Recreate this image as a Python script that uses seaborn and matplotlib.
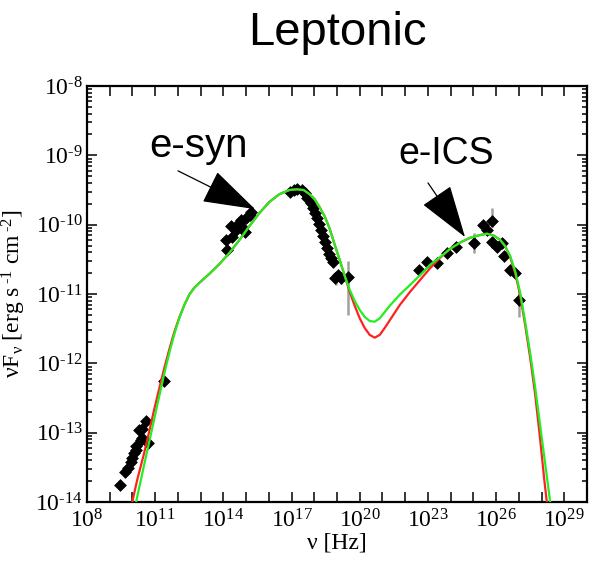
import numpy as np
import matplotlib
matplotlib.use("Agg")
import matplotlib.pyplot as plt
from matplotlib.ticker import FixedLocator, LogLocator, NullFormatter
import seaborn as sns

# ---- model curves (log10 nu [Hz], log10 nuFnu [erg s^-1 cm^-2]) ----
green_lognu = [10.16, 10.29, 10.51, 10.74, 10.96, 11.18, 11.40, 11.62, 11.84, 12.06,
               12.28, 12.50, 12.72, 12.94, 13.38, 13.82, 14.26, 14.71, 15.15, 15.59,
               16.03, 16.47, 16.91, 17.22, 17.53, 17.79, 18.01, 18.24, 18.46, 18.68,
               18.90, 19.12, 19.34, 19.56, 19.78, 20.00, 20.22, 20.44, 20.66, 20.88,
               21.10, 21.32, 21.76, 22.21, 22.65, 23.09, 23.53, 23.97, 24.41, 24.85,
               25.29, 25.60, 25.91, 26.18, 26.40, 26.62, 26.84, 27.06, 27.28, 27.50,
               27.72, 27.94, 28.16, 28.40]
green_logF = [-14.0, -13.80, -13.47, -13.13, -12.80, -12.47, -12.15, -11.85, -11.58, -11.35,
              -11.16, -11.01, -10.91, -10.84, -10.71, -10.57, -10.41, -10.22, -10.02, -9.83,
              -9.67, -9.56, -9.50, -9.49, -9.50, -9.56, -9.63, -9.75, -9.88, -10.06,
              -10.29, -10.51, -10.74, -10.94, -11.10, -11.23, -11.33, -11.39, -11.40, -11.35,
              -11.26, -11.17, -11.01, -10.87, -10.73, -10.58, -10.47, -10.35, -10.26, -10.19,
              -10.15, -10.13, -10.16, -10.22, -10.31, -10.45, -10.67, -10.98, -11.40, -11.85,
              -12.35, -12.90, -13.45, -14.05]

red_lognu = [9.99, 10.21, 10.51, 10.74, 10.96, 11.18, 11.40, 11.62, 11.84, 12.06,
             12.28, 12.50, 12.72, 12.94, 13.38, 13.82, 14.26, 14.71, 15.15, 15.59,
             16.03, 16.47, 16.91, 17.22, 17.53, 17.79, 18.01, 18.24, 18.46, 18.68,
             18.90, 19.12, 19.34, 19.56, 19.78, 20.00, 20.22, 20.44, 20.66, 20.88,
             21.10, 21.32, 21.76, 22.21, 22.65, 23.09, 23.53, 23.97, 24.41, 24.85,
             25.29, 25.60, 25.91, 26.18, 26.40, 26.62, 26.84, 27.06, 27.28, 27.50,
             27.72, 27.94, 28.12, 28.25]
red_logF = [-14.0, -13.68, -13.30, -12.98, -12.66, -12.36, -12.07, -11.80, -11.55, -11.34,
            -11.16, -11.01, -10.91, -10.84, -10.71, -10.57, -10.41, -10.22, -10.02, -9.83,
            -9.67, -9.56, -9.50, -9.49, -9.50, -9.56, -9.63, -9.75, -9.88, -10.06,
            -10.29, -10.51, -10.74, -10.97, -11.17, -11.35, -11.49, -11.59, -11.63, -11.59,
            -11.49, -11.38, -11.16, -10.97, -10.80, -10.63, -10.48, -10.35, -10.26, -10.19,
            -10.15, -10.13, -10.16, -10.22, -10.31, -10.47, -10.70, -11.02, -11.45, -11.92,
            -12.45, -13.10, -13.68, -14.05]

# ---- observed SED points ----
data_lognu = [9.46, 9.68, 9.81, 9.94, 9.99, 10.07, 10.16, 10.16, 10.38, 10.43,
              10.29, 10.43, 10.60, 10.69, 11.40,
              14.18, 14.13, 14.40, 14.57, 14.35, 14.70, 14.84, 14.79, 15.01, 15.15,
              15.23, 14.93,
              16.91, 17.09, 17.26, 17.44, 17.57, 17.70, 17.84, 17.93, 18.01, 18.10,
              18.19, 18.28, 18.37, 18.45, 18.54, 18.63, 18.72, 18.81, 18.90, 19.03,
              19.16, 19.47,
              22.60, 22.95, 23.40, 23.84, 24.23, 25.03, 25.42, 25.60, 25.82, 25.82,
              26.04, 26.26, 26.35, 26.62, 26.84, 27.01]
data_logF = [-13.755, -13.57, -13.51, -13.42, -13.37, -13.29, -13.25, -13.19, -13.11, -13.08,
             -12.96, -12.95, -12.83, -13.15, -12.25,
             -10.37, -10.22, -10.18, -10.08, -10.02, -9.98, -10.03, -9.93, -9.90, -9.86,
             -9.82, -10.11,
             -9.53, -9.50, -9.49, -9.50, -9.54, -9.62, -9.69, -9.76, -9.83, -9.90,
             -9.99, -10.08, -10.16, -10.25, -10.34, -10.42, -10.48, -10.54, -10.77, -10.73,
             -10.77, -10.75,
             -10.65, -10.54, -10.55, -10.41, -10.32, -10.26, -10.00, -10.08, -9.95, -10.25,
             -10.32, -10.26, -10.45, -10.65, -10.70, -11.09]

# error bars (log10 nu, log10 low, log10 high)
err_lognu = [18.95, 19.16, 19.47, 25.03, 25.82, 27.01]
err_lo = [-10.87, -10.85, -11.30, -10.41, -10.03, -11.33]
err_hi = [-10.73, -10.75, -10.53, -10.12, -9.76, -10.94]

xtick_exp = [8, 11, 14, 17, 20, 23, 26, 29]
ytick_exp = [-14, -13, -12, -11, -10, -9, -8]

sns.set_theme(style="ticks")
plt.rcParams['font.family'] = ['Liberation Serif', 'DejaVu Serif']
plt.rcParams['mathtext.fontset'] = 'custom'
plt.rcParams['mathtext.rm'] = 'Liberation Serif'
plt.rcParams['mathtext.it'] = 'Liberation Serif:italic'
for k in ['text.color', 'axes.labelcolor', 'xtick.color', 'ytick.color', 'axes.edgecolor']:
    plt.rcParams[k] = 'black'


def exp_label(e):
    if e < 0:
        return r'$\mathregular{10^{\text{-}%d}}$' % (-e)
    return r'$\mathregular{10^{%d}}$' % e


fig = plt.figure(figsize=(5.94, 5.73), dpi=100)
ax = fig.add_axes([87/594, 1-502/573, 500/594, 416/573])

gx = 10.0 ** np.array(green_lognu)
gy = 10.0 ** np.array(green_logF)
rx = 10.0 ** np.array(red_lognu)
ry = 10.0 ** np.array(red_logF)

ax.vlines(10.0 ** np.array(err_lognu), 10.0 ** np.array(err_lo), 10.0 ** np.array(err_hi),
          colors='#a0a0a0', lw=1.8, zorder=2)
sns.scatterplot(x=10.0 ** np.array(data_lognu), y=10.0 ** np.array(data_logF), marker='D',
                s=36, color='black', edgecolor='black', linewidth=0.5, ax=ax, zorder=3)
sns.lineplot(x=rx, y=ry, color='#ff2020', lw=1.6, sort=False, estimator=None, ax=ax, zorder=4)
sns.lineplot(x=gx, y=gy, color='#22ee22', lw=1.6, sort=False, estimator=None, ax=ax, zorder=5)

ax.set_xscale('log')
ax.set_yscale('log')
ax.set_xlim(1e8, 1e30)
ax.set_ylim(1e-14, 1e-8)

ax.xaxis.set_major_locator(FixedLocator([10.0 ** e for e in xtick_exp]))
ax.set_xticklabels([exp_label(e) for e in xtick_exp])
ax.xaxis.set_minor_locator(FixedLocator([10.0 ** e for e in range(8, 31)]))
ax.xaxis.set_minor_formatter(NullFormatter())
ax.yaxis.set_major_locator(FixedLocator([10.0 ** e for e in ytick_exp]))
ax.set_yticklabels([exp_label(e) for e in ytick_exp])
ax.yaxis.set_minor_locator(LogLocator(base=10, subs=np.arange(2, 10), numticks=50))
ax.yaxis.set_minor_formatter(NullFormatter())

ax.tick_params(which='both', direction='in', top=True, right=True, color='black', width=1.1)
ax.tick_params(axis='x', which='both', length=7, labelsize=17, pad=5)
ax.tick_params(axis='y', which='major', length=7, labelsize=17, pad=3)
ax.tick_params(axis='y', which='minor', length=3.5)
for s in ax.spines.values():
    s.set_linewidth(1.6)
    s.set_color('black')

ax.set_xlabel(r'ν [Hz]', fontsize=17, labelpad=0)
ax.set_ylabel(r'νF$_\mathregular{ν}$ [erg s$\,^\mathregular{\text{-}1}$ cm$\,^\mathregular{\text{-}2}$]',
              fontsize=17)
ax.yaxis.set_label_coords(-0.118, 0.5)

fig.text(337/594, 1-45/573, 'Leptonic', family='Liberation Sans', fontsize=34,
         ha='center', va='baseline', color='black')

ax.text(0.222, 0.829, 'e-syn', transform=ax.transAxes, family='Liberation Sans',
        fontsize=29, ha='center', va='baseline', color='black')
ax.text(0.718, 0.8125, 'e-ICS', transform=ax.transAxes, family='Liberation Sans',
        fontsize=27, ha='center', va='baseline', color='black')

arrow = dict(arrowstyle='-|>,head_length=1.7,head_width=0.55', color='black', lw=0.9,
             mutation_scale=20, shrinkA=0, shrinkB=0)
ax.annotate('', xy=(0.336, 0.704), xytext=(0.182, 0.796), xycoords='axes fraction',
            textcoords='axes fraction', arrowprops=arrow)
ax.annotate('', xy=(0.756, 0.637), xytext=(0.682, 0.767), xycoords='axes fraction',
            textcoords='axes fraction', arrowprops=arrow)

fig.savefig('out.png', dpi=100, facecolor='white')
